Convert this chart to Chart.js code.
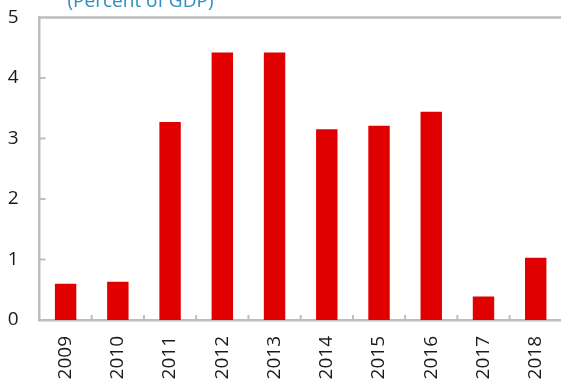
<!DOCTYPE html>
<html>
<head>
<meta charset="utf-8">
<script src="https://cdn.jsdelivr.net/npm/chart.js@4.4.1/dist/chart.umd.min.js"></script>
<style>
    html, body { margin: 0; padding: 0; background: #fff; overflow: hidden; }
    #wrap { position: absolute; left: 0; top: -15px; width: 575px; height: 415px; }
</style>
</head>
<body>
<div id="wrap"><canvas id="gdpChart"></canvas></div>
<script>
// ── Dades ────────────────────────────────────────────────────
const years    = ['2009', '2010', '2011', '2012', '2013', '2014', '2015', '2016', '2017', '2018'];
const values   = [0.6, 0.63, 3.27, 4.42, 4.42, 3.15, 3.21, 3.44, 0.39, 1.03];
const yTicks   = [0, 1, 2, 3, 4, 5];
const subtitle = '(Percent of GDP)';

const axisColor = '#bdbdbd';
const barColor  = '#e00000';
const fontBase  = { family: '"Open Sans", sans-serif', size: 19 };

// ── Marc: línia superior, marques interiors i subtítol ───────
const framePlugin = {
    id: 'frame',
    afterDraw(chart) {
        const { ctx, chartArea: a, scales } = chart;
        ctx.save();
        ctx.strokeStyle = axisColor;
        ctx.lineWidth = 2.5;

        ctx.beginPath();
        ctx.moveTo(a.left, a.top);
        ctx.lineTo(a.right, a.top);
        ctx.stroke();

        ctx.lineWidth = 2;
        ctx.beginPath();
        yTicks.slice(1, -1).forEach(v => {
            const y = scales.y.getPixelForValue(v);
            ctx.moveTo(a.left, y);
            ctx.lineTo(a.left + 6, y);
        });
        for (let i = 1; i < years.length; i++) {
            const x = (scales.x.getPixelForValue(i - 1) + scales.x.getPixelForValue(i)) / 2;
            ctx.moveTo(x, a.bottom);
            ctx.lineTo(x, a.bottom - 5);
        }
        ctx.stroke();

        ctx.fillStyle = '#2a8fc4';
        ctx.font = `19px ${fontBase.family}`;
        ctx.textBaseline = 'alphabetic';
        ctx.textAlign = 'left';
        ctx.fillText(subtitle, a.left + 28, a.top - 10);
        ctx.restore();
    },
};

new Chart(document.getElementById('gdpChart'), {
    type: 'bar',
    data: {
        labels: years,
        datasets: [{
            data: values,
            backgroundColor: barColor,
            barPercentage: 0.41,
            categoryPercentage: 1,
        }],
    },
    options: {
        responsive: true,
        maintainAspectRatio: false,
        animation: false,
        layout: { padding: { left: 0, top: 0, right: 9.5, bottom: 0 } },
        plugins: {
            legend: { display: false },
            tooltip: { enabled: false },
        },
        scales: {
            x: {
                grid: { display: false, drawTicks: false },
                border: { display: true, color: axisColor, width: 2.5 },
                ticks: {
                    font: fontBase,
                    color: '#1a1a1a',
                    maxRotation: 90,
                    minRotation: 90,
                    padding: 16,
                },
                afterFit: scale => { scale.height = 80; },
            },
            y: {
                min: 0,
                max: 5,
                afterBuildTicks: scale => { scale.ticks = yTicks.map(v => ({ value: v })); },
                grid: { display: false, drawTicks: false },
                border: { display: true, color: axisColor, width: 2.5 },
                ticks: {
                    font: fontBase,
                    color: '#1a1a1a',
                    padding: 21,
                },
                afterFit: scale => { scale.width = 39.5; },
            },
        },
    },
    plugins: [framePlugin],
});
</script>
</body>
</html>
